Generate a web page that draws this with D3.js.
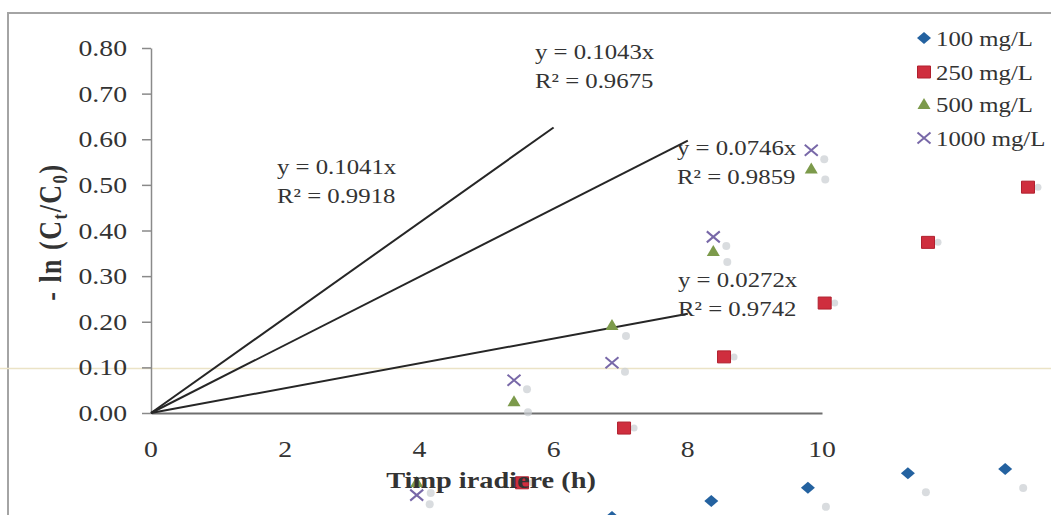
<!DOCTYPE html>
<html>
<head>
<meta charset="utf-8">
<script src="https://cdn.jsdelivr.net/npm/d3@7"></script>
<style>
  body { margin: 0; background: #fff; }
  svg { display: block; }
  text { font-family: "Liberation Serif", "Times New Roman", serif; fill: #333; }
</style>
</head>
<body>
<div id="chart"></div>
<script>
// values (x = hours, y = -ln(Ct/C0))
var seriesNames = ["100 mg/L", "250 mg/L", "500 mg/L", "1000 mg/L"];
var s100 = [[6.87, -0.228], [8.35, -0.193], [9.79, -0.164], [11.28, -0.132], [12.73, -0.123]];
var s250 = [[5.53, -0.153], [7.05, -0.033], [8.54, 0.123], [10.04, 0.241], [11.58, 0.374], [13.07, 0.495]];
var s500 = [[3.96, -0.151], [5.41, 0.026], [6.87, 0.193], [8.38, 0.355], [9.84, 0.536]];
var s1000 = [[3.96, -0.180], [5.41, 0.072], [6.87, 0.110], [8.38, 0.386], [9.84, 0.576]];

var trendSlopes = [0.1043, 0.0746, 0.0272];
var trendEndX = [6, 8, 8];

var eqLabels = ["y = 0.1043x", "y = 0.0746x", "y = 0.0272x", "y = 0.1041x"];
var r2Labels = ["R² = 0.9675", "R² = 0.9859", "R² = 0.9742", "R² = 0.9918"];

var yTicks = [0, 0.1, 0.2, 0.3, 0.4, 0.5, 0.6, 0.7, 0.8];
var xTicks = [0, 2, 4, 6, 8, 10];

var width = 1051, height = 515;
var stretch = 1.18; // the scan is wider than tall

var x = d3.scaleLinear().domain([0, 10]).range([151, 822]);
var y = d3.scaleLinear().domain([0, 0.8]).range([413, 48]);

var svg = d3.select('#chart').append('svg')
  .attr('width', width)
  .attr('height', height);

// frame of the scanned figure + a pale scan streak
svg.append('path').attr('d', 'M8,515 L8,13 L1051,13')
  .attr('fill', 'none').attr('stroke', '#a4a4a4').attr('stroke-width', 2);
svg.append('line').attr('x1', 0).attr('x2', width)
  .attr('y1', y(0.1) + 1).attr('y2', y(0.1) + 1)
  .attr('stroke', '#ebe3c6').attr('stroke-width', 1.5);

function stext(g, px, py, str, size, anchor, bold) {
  return g.append('text')
    .attr('transform', 'translate(' + px + ',' + py + ') scale(' + stretch + ',1)')
    .attr('text-anchor', anchor || 'start')
    .attr('font-size', size)
    .attr('font-weight', bold ? 'bold' : 'normal')
    .text(str);
}

// axes
var yAxis = d3.axisLeft(y).tickValues(yTicks).tickSize(9).tickSizeOuter(0).tickFormat('');
var gy = svg.append('g').attr('transform', 'translate(' + x(0) + ',0)').call(yAxis);
gy.selectAll('path, line').attr('stroke', '#8a8a8a').attr('stroke-width', 1.5);

var xAxis = d3.axisBottom(x).tickValues(xTicks).tickSize(0).tickSizeOuter(0).tickFormat('');
var gx = svg.append('g').attr('transform', 'translate(0,' + y(0) + ')').call(xAxis);
gx.selectAll('path').attr('stroke', '#6f6f6f').attr('stroke-width', 2);

yTicks.forEach(function (t) {
  stext(svg, 127, y(t) + 8, d3.format('.2f')(t), 23.5, 'end');
});
xTicks.forEach(function (t) {
  stext(svg, x(t), 457, String(t), 23.5, 'middle');
});

var yt = svg.append('text')
  .attr('transform', 'translate(61,232) scale(' + stretch + ',1) rotate(-90)')
  .attr('text-anchor', 'middle')
  .attr('font-size', 26)
  .attr('font-weight', 'bold')
  .attr('letter-spacing', 1.5);
yt.append('tspan').text('-  ln  (C');
yt.append('tspan').attr('font-size', 17).attr('dy', 5).text('t');
yt.append('tspan').attr('dy', -5).text('/C');
yt.append('tspan').attr('font-size', 17).attr('dy', 5).text('0');
yt.append('tspan').attr('dy', -5).text(')');

// trend lines through the origin
svg.selectAll('line.trend').data(trendSlopes).enter().append('line')
  .attr('class', 'trend')
  .attr('x1', x(0)).attr('y1', y(0))
  .attr('x2', (d, i) => x(trendEndX[i]))
  .attr('y2', (d, i) => y(d * trendEndX[i]))
  .attr('stroke', '#262626').attr('stroke-width', 2);

// markers
var shapes = {
  diamond: 'M0,-6L7,0L0,6L-7,0Z',
  square: 'M-6.5,-6L6.5,-6L6.5,6L-6.5,6Z',
  triangle: 'M0,-6L6.5,5L-6.5,5Z',
  cross: 'M-6.5,-5.5L6.5,5.5M-6.5,5.5L6.5,-5.5'
};
var series = [
  { data: s100, shape: 'diamond', color: '#2462a0', ghost: [18, 19] },
  { data: s250, shape: 'square', color: '#cf2e3e', ghost: [10, 0] },
  { data: s500, shape: 'triangle', color: '#7c9a4b', ghost: [14, 11] },
  { data: s1000, shape: 'cross', color: '#7868a8', ghost: [13, 9] }
];

function drawMark(g, shape, color) {
  var p = g.append('path').attr('d', shapes[shape]);
  if (shape == 'cross') {
    p.attr('fill', 'none').attr('stroke', color).attr('stroke-width', 2);
  } else {
    p.attr('fill', color);
    if (shape == 'square') p.attr('stroke', '#b0202e').attr('stroke-width', 1);
  }
  return p;
}

series.forEach(function (s) {
  // faint grey copies left by the scan
  svg.append('g').selectAll('circle').data(s.data).enter().append('circle')
    .attr('cx', d => x(d[0]) + s.ghost[0])
    .attr('cy', d => y(d[1]) + s.ghost[1])
    .attr('r', s.shape == 'square' ? 3.5 : 4)
    .attr('fill', '#c9cdd2').attr('opacity', 0.7);
  var g = svg.append('g');
  s.data.forEach(function (d) {
    var m = g.append('g').attr('transform', 'translate(' + x(d[0]) + ',' + y(d[1]) + ')');
    drawMark(m, s.shape, s.color);
  });
});

// axis title sits over the hidden points, as in the scan
stext(svg, 491, 488, 'Timp iradiere (h)', 24, 'middle', true);

// equation labels
var eqPos = [[535, 59], [677, 155], [678, 287], [277, 174]];
eqLabels.forEach(function (t, i) {
  stext(svg, eqPos[i][0], eqPos[i][1], t, 21, 'start');
  stext(svg, eqPos[i][0], eqPos[i][1] + 29, r2Labels[i], 21, 'start');
});

// legend
var legY = [38, 72, 104, 138];
seriesNames.forEach(function (name, i) {
  var m = svg.append('g').attr('transform', 'translate(924,' + legY[i] + ')');
  drawMark(m, series[i].shape, series[i].color);
  stext(svg, 936, legY[i] + 8, name, 21, 'start');
});
</script>
</body>
</html>
